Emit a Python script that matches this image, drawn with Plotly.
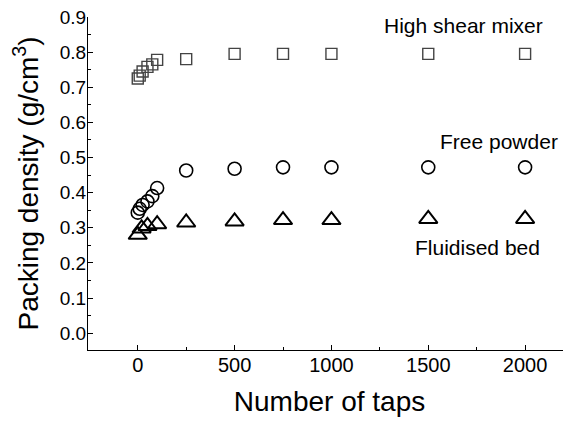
import plotly.graph_objects as go

taps = [0, 10, 25, 50, 75, 100, 250, 500, 750, 1000, 1500, 2000]
high_shear = [0.725, 0.733, 0.745, 0.758, 0.765, 0.778, 0.78, 0.795, 0.795, 0.795, 0.795, 0.795]
free_powder = [0.343, 0.354, 0.365, 0.375, 0.39, 0.413, 0.463, 0.468, 0.472, 0.472, 0.472, 0.472]
taps_fb = [0, 20, 50, 100, 250, 500, 750, 1000, 1500, 2000]
fluidised = [0.28, 0.298, 0.305, 0.31, 0.315, 0.318, 0.322, 0.322, 0.325, 0.325]

fig = go.Figure()
fig.add_trace(go.Scatter(x=taps, y=high_shear, mode="markers",
                         marker=dict(symbol="square-open", size=11, color="#444", line=dict(width=1.4))))
fig.add_trace(go.Scatter(x=taps, y=free_powder, mode="markers",
                         marker=dict(symbol="circle-open", size=13, color="black", line=dict(width=1.6))))
fig.add_trace(go.Scatter(x=taps_fb, y=fluidised, mode="markers",
                         marker=dict(symbol="triangle-up-open", size=16, color="black", line=dict(width=2))))

font = "Arial, Liberation Sans, sans-serif"
# page body has an 8px offset; figure coordinates are shifted accordingly
OFF = 8
W, H = 571 - OFF, 431 - OFF
L, T, B = 88 - OFF, 17 - OFF, 350 - OFF
pw, ph = W - L, B - T
ann = dict(showarrow=False, xref="paper", yref="paper", xanchor="center", yanchor="middle",
           font=dict(family=font, size=21, color="black"))
fig.add_annotation(text="High shear mixer", x=(463 - OFF - L) / pw, y=(B - (25 - OFF)) / ph, **ann)
fig.add_annotation(text="Free powder", x=(499 - OFF - L) / pw, y=(B - (141 - OFF)) / ph, **ann)
fig.add_annotation(text="Fluidised bed", x=(477 - OFF - L) / pw, y=(B - (247 - OFF)) / ph, **ann)

fig.update_layout(
    width=W, height=H,
    margin=dict(l=L, r=0, t=T, b=H - B),
    paper_bgcolor="white", plot_bgcolor="white",
    showlegend=False,
    font=dict(family=font, color="black"),
)
fig.update_xaxes(range=[-257, 2237], tickvals=[0, 500, 1000, 1500, 2000], automargin=False,
                 showgrid=False, zeroline=False, showline=True, linecolor="black", linewidth=1.2,
                 ticks="inside", ticklen=5, tickwidth=1.2, tickcolor="black", ticklabelstandoff=-3,
                 ticklabeloverflow="allow",
                 minor=dict(tickvals=[250, 750, 1250, 1750], ticks="inside", ticklen=3, tickcolor="black", tickwidth=1),
                 tickfont=dict(size=20),
                 title=dict(text="Number of taps", font=dict(size=28), standoff=16))
fig.update_yaxes(range=[-0.048, 0.9], tickvals=[i / 10 for i in range(10)], tickformat=".1f", automargin=False,
                 showgrid=False, zeroline=False, showline=True, linecolor="black", linewidth=1.2,
                 ticks="inside", ticklen=5, tickwidth=1.2, tickcolor="black", ticklabelstandoff=-3,
                 ticklabeloverflow="allow",
                 minor=dict(tickvals=[0.05 + i / 10 for i in range(9)], ticks="inside", ticklen=3, tickcolor="black", tickwidth=1),
                 tickfont=dict(size=19),
                 title=dict(text="Packing density (g/cm<sup>3</sup>)", font=dict(size=28), standoff=22))

fig.write_html("out.html")
